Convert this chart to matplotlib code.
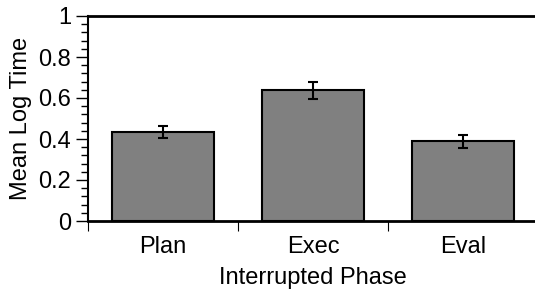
import matplotlib
matplotlib.use("Agg")
import matplotlib.pyplot as plt
from matplotlib.ticker import MultipleLocator, FixedLocator, NullFormatter

#====== DATA ======================================
phases = ["Plan", "Exec", "Eval"]
mean_log_time = [0.435, 0.638, 0.388]
std_err = [0.03, 0.042, 0.032]

plt.rcParams["font.family"] = ["Liberation Sans", "DejaVu Sans"]

fig = plt.figure(figsize=(5.35, 2.89), dpi=100)
ax = fig.add_axes([88 / 535, 1 - 221 / 289, 450 / 535, 205 / 289])

x = list(range(len(phases)))
ax.bar(x, mean_log_time, width=0.68, color="#808080", edgecolor="black", linewidth=1.5, zorder=2)
ax.errorbar(x, mean_log_time, yerr=std_err, fmt="none", ecolor="black",
            elinewidth=1.5, capsize=3.8, capthick=1.5, zorder=3)

ax.set_xlim(-0.5, len(phases) - 0.5)
ax.set_ylim(0, 1)

# ticks at category borders, labels in the middle
ax.xaxis.set_major_locator(FixedLocator([i - 0.5 for i in range(len(phases) + 1)]))
ax.xaxis.set_major_formatter(NullFormatter())
ax.xaxis.set_minor_locator(FixedLocator(x))
ax.set_xticklabels(phases, minor=True)
ax.tick_params(axis="x", which="major", direction="out", length=7, width=0.8)
ax.tick_params(axis="x", which="minor", length=0, labelsize=17, pad=11)

ax.set_yticks([0, 0.2, 0.4, 0.6, 0.8, 1.0])
ax.set_yticklabels(["0", "0.2", "0.4", "0.6", "0.8", "1"])
ax.yaxis.set_minor_locator(MultipleLocator(0.04))
ax.tick_params(axis="y", which="major", direction="out", length=9, width=1, labelsize=17, pad=3)
ax.tick_params(axis="y", which="minor", direction="out", length=5, width=1)

ax.spines["right"].set_visible(False)
ax.spines["top"].set_linewidth(2)
ax.spines["bottom"].set_linewidth(2)
ax.spines["left"].set_linewidth(1.5)

ax.set_xlabel("Interrupted Phase", fontsize=17, labelpad=6)
ax.set_ylabel("Mean Log Time", fontsize=17, labelpad=5)

fig.savefig("out.png", dpi=100)
